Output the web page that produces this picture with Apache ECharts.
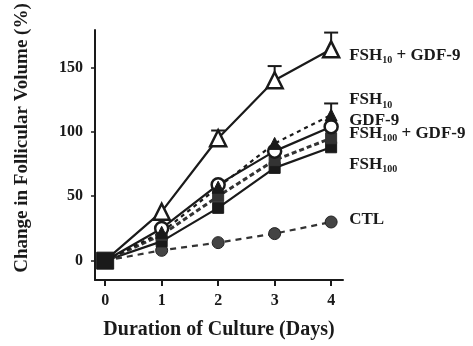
<!DOCTYPE html>
<html>
<head>
<meta charset="utf-8">
<script src="https://cdn.jsdelivr.net/npm/echarts@6/dist/echarts.min.js"></script>
<style>
  html, body { margin: 0; padding: 0; background: #fff; }
  #chart { width: 473px; height: 346px; }
</style>
</head>
<body>
<div id="chart"></div>
<script>
const days = [0, 1, 2, 3, 4];
const dayTicks = [0, 1, 2, 3, 4];
const volTicks = [0, 50, 100, 150];

const fsh10Gdf9 = [0, 38, 95, 140, 164];
const fsh10 = [0, 22, 57, 91, 113];
const gdf9 = [0, 25, 59, 85, 104];
const fsh100Gdf9 = [0, 20, 50, 78, 95];
const fsh100 = [0, 15, 41, 72, 88];
const ctl = [0, 8, 14, 21, 30];

// upper error (SEM) where visible
const fsh10Gdf9Err = [0, 0, 6, 11, 13];
const fsh10Err = [0, 0, 0, 0, 9];

const font = "'Liberation Serif', 'DejaVu Serif', serif";
const ink = "#1a1a1a";

const pairs = (ys) => days.map((d, i) => [d, ys[i]]);
const startBig = (big, small) => (v, p) => (p.dataIndex === 0 ? big : small);

const labelRich = {
  b: { fontFamily: font, fontWeight: "bold", fontSize: 17, color: ink },
  s: { fontFamily: font, fontWeight: "bold", fontSize: 10, color: ink, padding: [10, 0, 0, 0] }
};

function endLabel(text, dy) {
  return {
    show: true,
    formatter: text,
    distance: 18,
    offset: [0, dy],
    rich: labelRich
  };
}

function line(name, ys, opts) {
  return Object.assign({
    name: name,
    type: "line",
    data: pairs(ys),
    z: 3,
    lineStyle: { color: ink, width: 2.2, type: "solid" },
    itemStyle: { color: ink, borderColor: ink, borderWidth: 2 }
  }, opts);
}

function errBars(ys, errs) {
  return {
    type: "custom",
    z: 2,
    data: days.map((d, i) => [d, ys[i], ys[i] + errs[i]]).filter((r, i) => errs[i] > 0),
    renderItem: (params, api) => {
      const lo = api.coord([api.value(0), api.value(1)]);
      const hi = api.coord([api.value(0), api.value(2)]);
      const style = { stroke: ink, lineWidth: 2 };
      return {
        type: "group",
        children: [
          { type: "line", shape: { x1: lo[0], y1: lo[1], x2: hi[0], y2: hi[1] }, style: style },
          { type: "line", shape: { x1: hi[0] - 7, y1: hi[1], x2: hi[0] + 7, y2: hi[1] }, style: style }
        ]
      };
    }
  };
}

const option = {
  animation: false,
  backgroundColor: "#fff",
  grid: { left: 95, top: 30, width: 248, height: 250 },
  xAxis: {
    type: "value",
    min: -0.18,
    max: 4.21,
    name: "Duration of Culture (Days)",
    nameLocation: "middle",
    nameGap: 40,
    nameTextStyle: { fontFamily: font, fontWeight: "bold", fontSize: 20, color: ink },
    axisLine: { show: true, onZero: false, lineStyle: { color: ink, width: 2 } },
    axisTick: { show: true, customValues: dayTicks, length: 6, lineStyle: { color: ink, width: 2 } },
    axisLabel: { customValues: dayTicks, fontFamily: font, fontWeight: "bold", fontSize: 16, color: ink, margin: 13 },
    splitLine: { show: false }
  },
  yAxis: {
    type: "value",
    min: -15,
    max: 179,
    name: "Change in Follicular Volume (%)",
    nameLocation: "middle",
    nameGap: 63,
    nameTextStyle: { fontFamily: font, fontWeight: "bold", fontSize: 19, color: ink, padding: [0, 0, 0, 34] },
    axisLine: { show: true, onZero: false, lineStyle: { color: ink, width: 2 } },
    axisTick: { show: true, customValues: volTicks, length: 4, lineStyle: { color: ink, width: 1.5 } },
    axisLabel: { customValues: volTicks, fontFamily: font, fontWeight: "bold", fontSize: 16, color: ink, margin: 12 },
    splitLine: { show: false }
  },
  series: [
    line("CTL", ctl, {
      symbol: "circle",
      symbolSize: startBig(0, 12),
      lineStyle: { color: "#333", width: 2.2, type: [6, 5] },
      itemStyle: { color: "#444", borderColor: "#222", borderWidth: 1 },
      endLabel: endLabel("{b|CTL}", -2)
    }),
    line("FSH100", fsh100, {
      symbol: "rect",
      symbolSize: startBig(17, 11),
      itemStyle: { color: ink, borderColor: ink, borderWidth: 1 },
      endLabel: endLabel("{b|FSH}{s|100}", 17)
    }),
    line("FSH100 + GDF-9", fsh100Gdf9, {
      symbol: "rect",
      symbolSize: startBig(0, 11),
      lineStyle: { color: "#333", width: 3, type: [5, 3] },
      itemStyle: { color: "#333", borderColor: "#333", borderWidth: 1 },
      endLabel: endLabel("{b|FSH}{s|100}{b| + GDF-9}", -5)
    }),
    line("GDF-9", gdf9, {
      symbol: "circle",
      symbolSize: startBig(0, 13),
      itemStyle: { color: "#fff", borderColor: ink, borderWidth: 2.5 },
      endLabel: endLabel("{b|GDF-9}", -6)
    }),
    line("FSH10", fsh10, {
      symbol: "triangle",
      symbolSize: startBig(0, 12),
      lineStyle: { color: ink, width: 2.2, type: [4, 4] },
      itemStyle: { color: ink, borderColor: ink, borderWidth: 1 },
      endLabel: endLabel("{b|FSH}{s|10}", -15)
    }),
    line("FSH10 + GDF-9", fsh10Gdf9, {
      symbol: "triangle",
      symbolSize: startBig(0, 16),
      itemStyle: { color: "#fff", borderColor: ink, borderWidth: 2.5 },
      endLabel: endLabel("{b|FSH}{s|10}{b| + GDF-9}", 6)
    }),
    errBars(fsh10Gdf9, fsh10Gdf9Err),
    errBars(fsh10, fsh10Err)
  ]
};

const chart = echarts.init(document.getElementById("chart"));
chart.setOption(option);
window.addEventListener("resize", () => chart.resize());
</script>
</body>
</html>
